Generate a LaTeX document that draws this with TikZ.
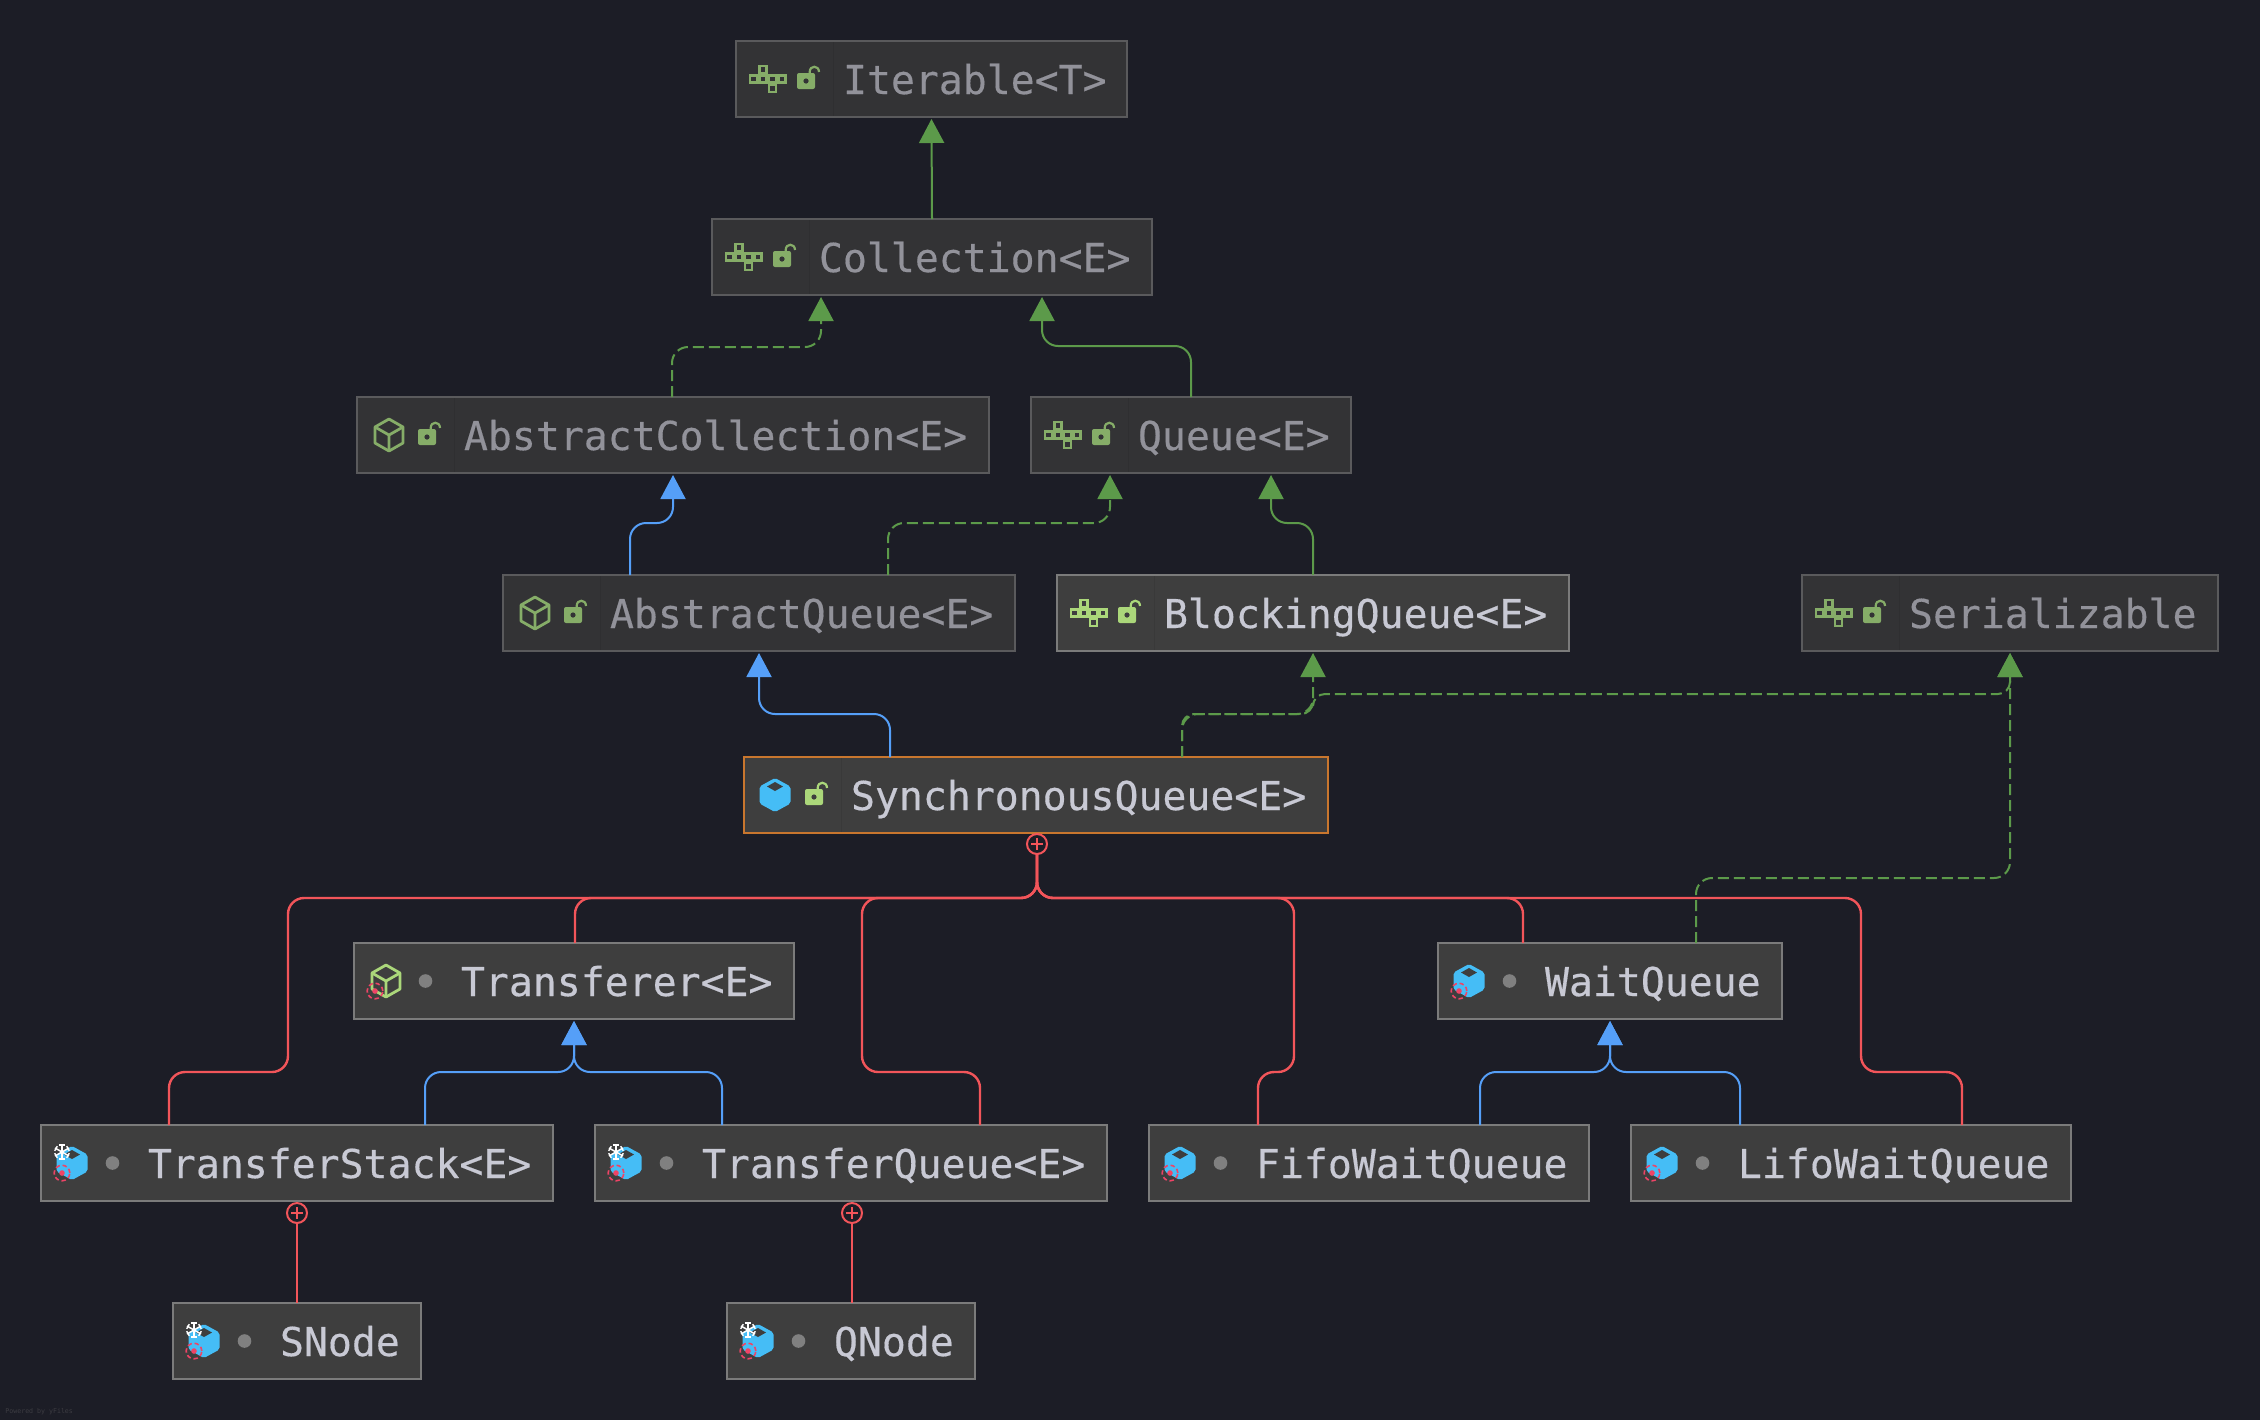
\documentclass[tikz,border=0pt]{standalone}
\usepackage{fontspec}
\setmainfont{DejaVu Sans Mono}
\newfontfamily\labelfont{DejaVu Sans Mono}[FakeBold=0.4]
\usetikzlibrary{arrows.meta,calc}
\definecolor{bg}{HTML}{1C1D26}
\definecolor{dimfill}{HTML}{333335}
\definecolor{dimedge}{HTML}{5A5A5C}
\definecolor{dimtext}{HTML}{92929A}
\definecolor{dimsep}{HTML}{2F2F31}
\definecolor{litfill}{HTML}{3E3E3E}
\definecolor{litedge}{HTML}{7B7B7B}
\definecolor{littext}{HTML}{C8C9D4}
\definecolor{litsep}{HTML}{393939}
\definecolor{seledge}{HTML}{C8762E}
\definecolor{dimgreen}{HTML}{86AD68}
\definecolor{litgreen}{HTML}{ABD77A}
\definecolor{cubeblue}{HTML}{45BDF6}
\definecolor{dotgrey}{HTML}{808080}
\definecolor{pinred}{HTML}{EE4466}
\definecolor{linkgreen}{HTML}{5C9A4A}
\definecolor{linkblue}{HTML}{559FF8}
\definecolor{linkred}{HTML}{F2555A}
\definecolor{markgrey}{HTML}{3C3C42}
\tikzset{
  x=0.5pt,y=-0.5pt,
  boxbase/.style={rectangle,line width=1pt,outer sep=0pt,inner sep=0pt,anchor=north west,
     minimum height=38pt,text height=19pt,text depth=4pt,
     font=\labelfont\fontsize{19.9pt}{24pt}\selectfont},
  dimbox/.style={boxbase,fill=dimfill,draw=dimedge,text=dimtext},
  litbox/.style={boxbase,fill=litfill,draw=litedge,text=littext},
  selbox/.style={litbox,draw=seledge},
  link/.style={line width=1pt,rounded corners=8pt,-{Triangle[length=12pt,width=12.5pt]}},
  extends/.style={link,draw=linkgreen,color=linkgreen},
  implements/.style={extends,dash pattern=on 5.5pt off 2.5pt},
  subclass/.style={link,draw=linkblue,color=linkblue},
  nesting/.style={line width=1.2pt,rounded corners=8pt,draw=linkred},
  plusmark/.style={circle,draw=linkred,line width=1pt,fill=bg,inner sep=0pt,outer sep=0pt,minimum size=10pt},
  plusbar/.style={draw=linkred,line width=.7pt},
}
% name, left, top, right, style, text
\newcommand\cbox[6]{%
  \pgfmathsetmacro\boxw{(#4-#2)/2}%
  \node[#5,minimum width=\boxw pt] (#1) at (#2,#3) {\makebox[\boxw pt][l]{\hspace{53.5pt}#6}};%
}
\newcommand\sepline[2]{\draw[#2,line width=.5pt] ($(#1.north west)+(97,1)$) -- ($(#1.south west)+(97,-1)$);}
\newcommand\ifaceicon[3]{%
  \begin{scope}[shift={(#1.west)}]
    \foreach \cx/\cy in {17.5/0,27/0,36.5/0,46/0,27/-9.5,36.5/9.5}
      \draw[#2,line width=1.3pt,fill=#3] (\cx-3.5,\cy-3.5) rectangle (\cx+3.5,\cy+3.5);
  \end{scope}}
\newcommand\lockicon[3]{%
  \begin{scope}[shift={(#1.west)}]
    \fill[#2,rounded corners=1pt] (61,-6) rectangle (79,10);
    \fill[#3] (70,2) circle (1.3pt);
    \draw[#2,line width=1.1pt] (73.7,-6) -- (73.7,-7) .. controls (73.7,-14) and (83,-14) .. (83,-7);
  \end{scope}}
\newcommand\hexoutline[2]{%
  \begin{scope}[shift={(#1.west)}]
    \draw[#2,line width=1.4pt,line join=round] (32,-16) -- (46,-8) -- (46,8) -- (32,16) -- (18,8) -- (18,-8) -- cycle;
    \draw[#2,line width=1.4pt,line join=round] (18,-8) -- (32,0) -- (46,-8) (32,0) -- (32,16);
  \end{scope}}
\newcommand\hexfilled[2]{%
  \begin{scope}[shift={(#1.west)}]
    \fill[cubeblue,rounded corners=1pt] (31,-17) -- (46.5,-8.5) -- (46.5,8.5) -- (31,17) -- (15.5,8.5) -- (15.5,-8.5) -- cycle;
    \fill[#2] (31,-13) -- (39,-8.5) -- (31,-4) -- (23,-8.5) -- cycle;
  \end{scope}}
\newcommand\redpin[1]{%
  \begin{scope}[shift={(#1.west)}]
    \draw[pinred,line width=.8pt,dash pattern=on 2.2pt off 1.4pt] (21,10) circle (3.9pt);
    \fill[pinred] (21,10) circle (1.4pt);
  \end{scope}}
\newcommand\greydot[1]{%
  \begin{scope}[shift={(#1.west)}]
    \fill[dotgrey] (71.5,0) circle (3.4pt);
  \end{scope}}
\newcommand\snowflake[1]{%
  \begin{scope}[shift={(#1.west)}]
    \foreach \ax/\ay in {0/-8,7/-4,7/4}{
      \draw[white,line width=.75pt] (21-\ax,-11-\ay) -- (21+\ax,-11+\ay);
    }
    \foreach \ax/\ay/\bx/\by in {0/-7/2.6/0,6/-3.5/1.3/2.3,6/3.5/-1.3/2.3,0/7/2.6/0,-6/3.5/1.3/2.3,-6/-3.5/-1.3/2.3}{
      \draw[white,line width=.7pt] (21+\ax-\bx,-11+\ay-\by) -- (21+\ax+\bx,-11+\ay+\by);
    }
  \end{scope}}
\newcommand\plusat[2]{%
  \node[plusmark] (#1) at #2 {};
  \draw[plusbar] ($(#1.center)+(-6,0)$) -- ($(#1.center)+(6,0)$) ($(#1.center)+(0,-6)$) -- ($(#1.center)+(0,6)$);}
% style, source, source dx, target, target dx, y of the bend
\newcommand\elbow[6]{%
  \coordinate (s) at ($(#2.north west)+(#3,0)$);
  \coordinate (e) at ($(#4.south west)+(#5,2)$);
  \coordinate (m) at (0,#6);
  \draw[#1] (s) -- (s |- m) -- (e |- m) -- (e);}
\newcommand\nestdirect[2]{%
  \coordinate (s) at ($(#1.north west)+(#2,0)$);
  \draw[nesting] (syncplus.south) -- (syncplus.south |- hbus) -- (s |- hbus) -- (s);}
\newcommand\nesttwo[3]{%
  \coordinate (s) at ($(#1.north west)+(#2,0)$);
  \coordinate (v) at (#3,0);
  \draw[nesting] (syncplus.south) -- (syncplus.south |- hbus) -- (v |- hbus) -- (v |- lbus) -- (s |- lbus) -- (s);}
\begin{document}
\begin{tikzpicture}
\useasboundingbox (0,0) rectangle (2260,1420);
\fill[bg] (0,0) rectangle (2260,1420);
\cbox{iterable}{736}{41}{1127}{dimbox}{Iterable<T>}
\cbox{collection}{712}{219}{1152}{dimbox}{Collection<E>}
\cbox{abscoll}{357}{397}{989}{dimbox}{AbstractCollection<E>}
\cbox{queue}{1031}{397}{1351}{dimbox}{Queue<E>}
\cbox{absqueue}{503}{575}{1015}{dimbox}{AbstractQueue<E>}
\cbox{blocking}{1057}{575}{1569}{litbox}{BlockingQueue<E>}
\cbox{serial}{1802}{575}{2218}{dimbox}{Serializable}
\cbox{sync}{744}{757}{1328}{selbox}{SynchronousQueue<E>}
\cbox{transferer}{354}{943}{794}{litbox}{Transferer<E>}
\cbox{wait}{1438}{943}{1782}{litbox}{WaitQueue}
\cbox{tstack}{41}{1125}{553}{litbox}{TransferStack<E>}
\cbox{tqueue}{595}{1125}{1107}{litbox}{TransferQueue<E>}
\cbox{fifo}{1149}{1125}{1589}{litbox}{FifoWaitQueue}
\cbox{lifo}{1631}{1125}{2071}{litbox}{LifoWaitQueue}
\cbox{snode}{173}{1303}{421}{litbox}{SNode}
\cbox{qnode}{727}{1303}{975}{litbox}{QNode}
\foreach \n in {iterable,collection,abscoll,queue,absqueue,serial}{\sepline{\n}{dimsep}}
\foreach \n in {blocking,sync}{\sepline{\n}{litsep}}
\foreach \n in {iterable,collection,queue,serial}{\ifaceicon{\n}{dimgreen}{dimfill}\lockicon{\n}{dimgreen}{dimfill}}
\ifaceicon{blocking}{litgreen}{litfill}\lockicon{blocking}{litgreen}{litfill}
\foreach \n in {abscoll,absqueue}{\hexoutline{\n}{dimgreen}\lockicon{\n}{dimgreen}{dimfill}}
\hexfilled{sync}{litfill}\lockicon{sync}{litgreen}{litfill}
\hexoutline{transferer}{litgreen}\redpin{transferer}\greydot{transferer}
\foreach \n in {wait,fifo,lifo}{\hexfilled{\n}{litfill}\redpin{\n}\greydot{\n}}
\foreach \n in {tstack,tqueue,snode,qnode}{\hexfilled{\n}{litfill}\snowflake{\n}\redpin{\n}\greydot{\n}}
% generalisation and realisation links
\draw[extends] (collection.north) -- ($(iterable.south)+(0,2)$);
\elbow{implements}{abscoll}{315}{collection}{109}{347}
\elbow{extends}{queue}{160}{collection}{330}{346}
\elbow{subclass}{absqueue}{127}{abscoll}{316}{523}
\elbow{implements}{absqueue}{385}{queue}{79}{523}
\elbow{extends}{blocking}{256}{queue}{240}{523}
\elbow{subclass}{sync}{146}{absqueue}{256}{714}
\elbow{implements}{sync}{438}{blocking}{256}{714}
\coordinate (s) at ($(sync.north west)+(438,0)$);
\coordinate (k) at ($(blocking.south west)+(256,0)$);
\coordinate (e) at ($(serial.south west)+(208,2)$);
\coordinate (m1) at (0,714);
\coordinate (m2) at (0,694);
\draw[implements,rounded corners=6pt] (s) -- (s |- m1) -- (k |- m1) -- (k |- m2) -- (e |- m2) -- (e);
\elbow{implements}{wait}{258}{serial}{208}{878}
\elbow{subclass}{tstack}{384}{transferer}{220}{1072}
\elbow{subclass}{tqueue}{127}{transferer}{220}{1072}
\elbow{subclass}{fifo}{331}{wait}{172}{1072}
\elbow{subclass}{lifo}{109}{wait}{172}{1072}
% nesting links
\plusat{syncplus}{($(sync.south)+(1,11)$)}
\coordinate (hbus) at (0,898);
\coordinate (lbus) at (0,1072);
\nesttwo{tstack}{128}{288}
\nestdirect{transferer}{221}
\nesttwo{tqueue}{385}{862}
\nesttwo{fifo}{109}{1294}
\nestdirect{wait}{85}
\nesttwo{lifo}{331}{1861}
\plusat{tsplus}{($(tstack.south)+(0,12)$)}
\plusat{tqplus}{($(tqueue.south)+(1,12)$)}
\draw[nesting] (tsplus.south) -- (tsplus.south |- snode.north);
\draw[nesting] (tqplus.south) -- (tqplus.south |- qnode.north);
\node[anchor=west,inner sep=0pt,text=markgrey,font=\fontsize{3.3pt}{4pt}\selectfont] (mark) at (5,1412) {Powered by yFiles};
\end{tikzpicture}
\end{document}
